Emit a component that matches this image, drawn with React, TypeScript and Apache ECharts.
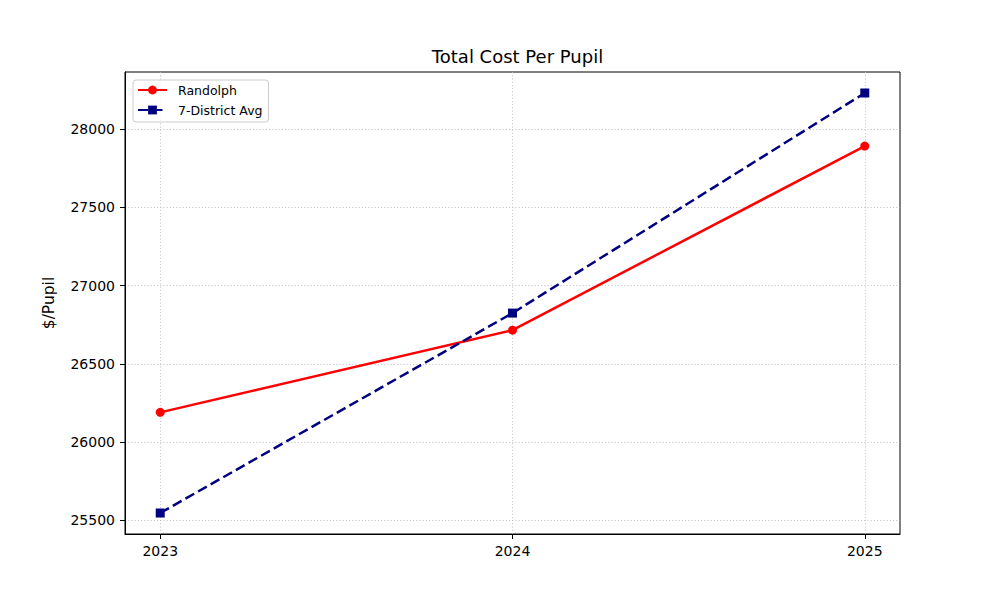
import React, { useEffect, useRef } from "react";
import * as echarts from "echarts";

const years = [2023, 2024, 2025];
const randolph = [26190, 26715, 27891];
const districtAvg = [25547, 26824, 28230];
const yTicks = [25500, 26000, 26500, 27000, 27500, 28000];
const xTicks = [2023, 2024, 2025];

const FONT = "'DejaVu Sans', sans-serif";

export default function App() {
  const ref = useRef<HTMLDivElement>(null);
  useEffect(() => {
    if (!ref.current) return;
    const chart = echarts.init(ref.current, null, { renderer: "svg" });
    const allVals = [...randolph, ...districtAvg];
    const lo = Math.min(...allVals);
    const hi = Math.max(...allVals);
    const pad = (hi - lo) * 0.05;
    const xPad = (years[years.length - 1] - years[0]) * 0.05;
    const gridLine = { show: true, lineStyle: { color: "#bdbdbd", width: 0.8, type: [1.2, 2] as any } };
    chart.setOption({
      animation: false,
      backgroundColor: "#ffffff",
      textStyle: { fontFamily: FONT },
      title: {
        text: "Total Cost Per Pupil",
        left: 512.5,
        top: 42,
        textAlign: "center",
        textStyle: { fontFamily: FONT, fontSize: 18, fontWeight: "normal", color: "#000" },
      },
      legend: {
        orient: "vertical",
        left: 133,
        top: 80,
        itemWidth: 29,
        itemHeight: 11,
        itemGap: 7,
        padding: [3.5, 6, 5.5, 4],
        backgroundColor: "rgba(255,255,255,0.8)",
        borderColor: "#cccccc",
        borderWidth: 1,
        borderRadius: 3,
        textStyle: { fontFamily: FONT, fontSize: 12.5, color: "#000", padding: [0, 0, 0, 6] },
        data: ["Randolph", "7-District Avg"],
      },
      grid: {
        left: 125,
        right: 100,
        top: 72,
        bottom: 66,
        show: true,
        borderColor: "#000",
        borderWidth: 1,
        containLabel: false,
      },
      xAxis: {
        type: "value",
        min: years[0] - xPad,
        max: years[years.length - 1] + xPad,
        splitNumber: 2,
        axisLine: { show: true, lineStyle: { color: "#000", width: 1 } },
        axisTick: { show: true, length: 5, lineStyle: { color: "#000" }, customValues: xTicks },
        axisLabel: {
          customValues: xTicks,
          margin: 10,
          fontFamily: FONT,
          fontSize: 14,
          color: "#000",
          formatter: (v: number) => (Number.isInteger(v) ? String(v) : ""),
        },
        splitLine: gridLine,
      },
      yAxis: {
        type: "value",
        min: lo - pad,
        max: hi + pad,
        name: "$/Pupil",
        nameLocation: "middle",
        nameGap: 68,
        nameTextStyle: { fontFamily: FONT, fontSize: 15.5, color: "#000" },
        axisLine: { show: true, lineStyle: { color: "#000", width: 1 } },
        axisTick: { show: true, length: 5, lineStyle: { color: "#000" }, customValues: yTicks },
        axisLabel: {
          customValues: yTicks,
          margin: 10,
          fontFamily: FONT,
          fontSize: 14,
          color: "#000",
          formatter: (v: number) => (v % 500 === 0 ? String(v) : ""),
        },
        splitLine: gridLine,
      },
      series: [
        {
          name: "Randolph",
          type: "line",
          data: years.map((y, i) => [y, randolph[i]]),
          symbol: "circle",
          symbolSize: 9,
          lineStyle: { color: "#ff0000", width: 2.5 },
          itemStyle: { color: "#ff0000" },
        },
        {
          name: "7-District Avg",
          type: "line",
          data: years.map((y, i) => [y, districtAvg[i]]),
          symbol: "rect",
          symbolSize: 9,
          lineStyle: { color: "#000080", width: 2.5, type: [10, 4.5] as any },
          itemStyle: { color: "#000080" },
        },
      ],
    });
    return () => chart.dispose();
  }, []);
  return (
    <div
      ref={ref}
      style={{ position: "absolute", left: 0, top: 0, width: 1000, height: 600 }}
    />
  );
}
